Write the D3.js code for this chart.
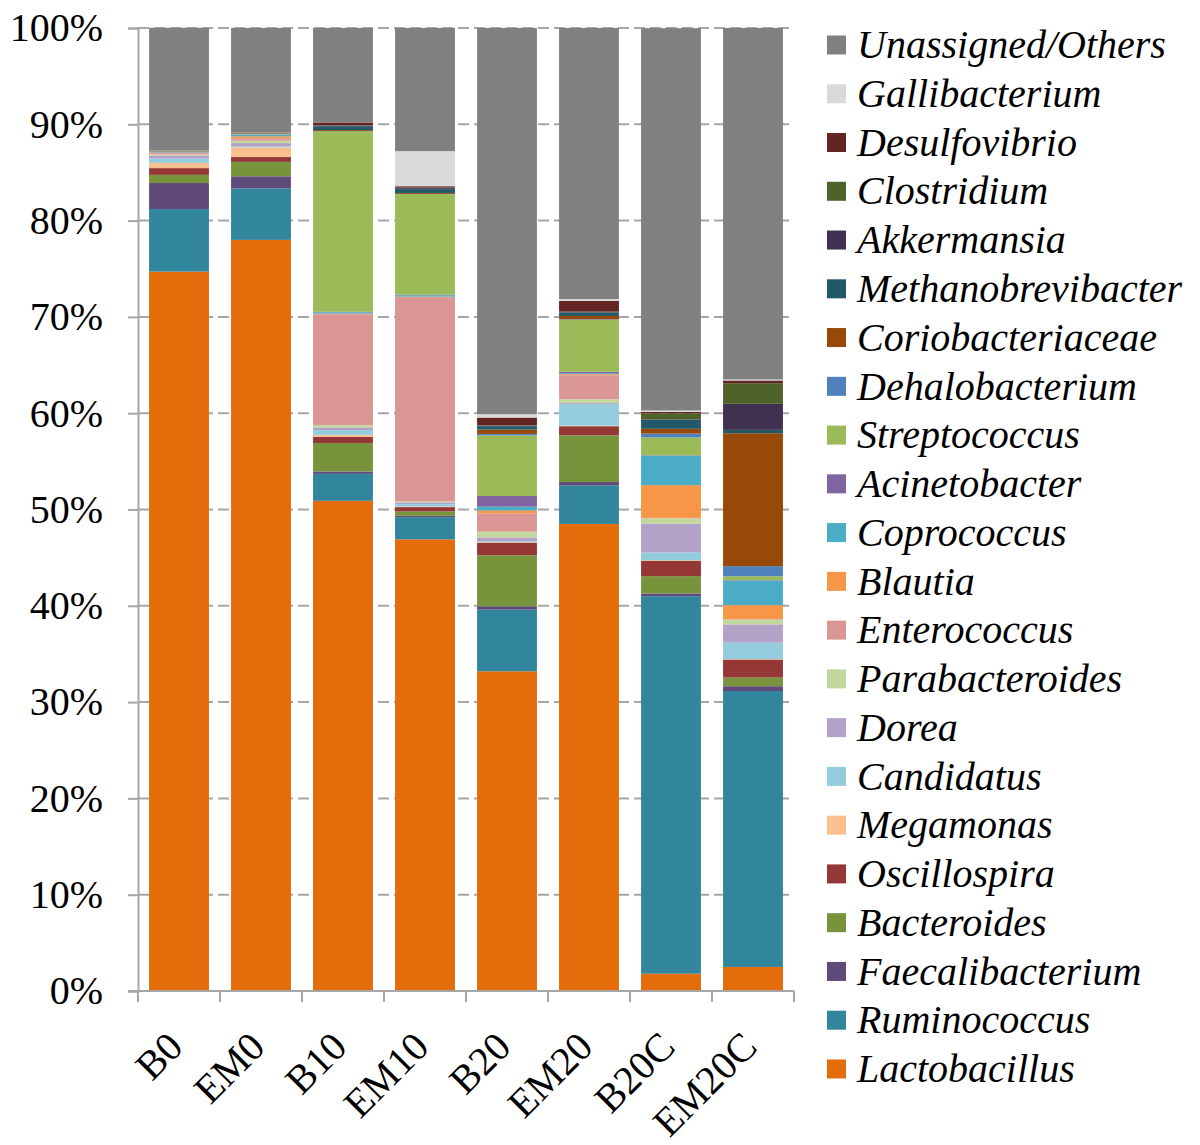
<!DOCTYPE html>
<html>
<head>
<meta charset="utf-8">
<script src="https://cdn.jsdelivr.net/npm/d3@7"></script>
<style>
  body { margin: 0; background: #fff; }
  text { font-family: "Times New Roman", "Liberation Serif", serif; fill: #000; }
</style>
</head>
<body>
<div id="chart"></div>
<script>
// samples on the x axis
const samples = ["B0", "EM0", "B10", "EM10", "B20", "EM20", "B20C", "EM20C"];

// genera, bottom of the stack first
const genera = ["Lactobacillus", "Ruminococcus", "Faecalibacterium", "Bacteroides", "Oscillospira",
  "Megamonas", "Candidatus", "Dorea", "Parabacteroides", "Enterococcus", "Blautia", "Coprococcus",
  "Acinetobacter", "Streptococcus", "Dehalobacterium", "Coriobacteriaceae", "Methanobrevibacter",
  "Akkermansia", "Clostridium", "Desulfovibrio", "Gallibacterium", "Unassigned/Others"];

// relative abundance (%) per sample, same order as samples
const lactobacillus      = [74.7, 78.0, 50.9, 46.9, 33.2, 48.5, 1.8, 2.5];
const ruminococcus       = [6.5, 5.35, 2.8, 2.3, 6.4, 4.0, 39.2, 28.65];
const faecalibacterium   = [2.7, 1.25, 0.25, 0.15, 0.35, 0.35, 0.28, 0.5];
const bacteroides        = [0.85, 1.5, 2.95, 0.45, 5.3, 4.85, 1.8, 0.9];
const oscillospira       = [0.7, 0.5, 0.65, 0.45, 1.3, 0.95, 1.6, 1.87];
const megamonas          = [0.55, 1.0, 0.2, 0.05, 0.05, 0.05, 0.05, 0.05];
const candidatus         = [0.45, 0.1, 0.5, 0.25, 0.1, 2.25, 0.8, 1.7];
const dorea              = [0.3, 0.35, 0.28, 0.2, 0.4, 0.1, 3.0, 1.9];
const parabacteroides    = [0.1, 0.25, 0.25, 0.1, 0.6, 0.4, 0.55, 0.5];
const enterococcus       = [0.15, 0.25, 11.5, 21.2, 1.9, 2.5, 0.05, 0.05];
const blautia            = [0.05, 0.2, 0.05, 0.05, 0.3, 0.1, 3.4, 1.45];
const coprococcus        = [0.05, 0.15, 0.15, 0.15, 0.4, 0.1, 3.05, 2.55];
const acinetobacter      = [0.03, 0.05, 0.05, 0.05, 1.1, 0.15, 0.05, 0.05];
const streptococcus      = [0.03, 0.05, 18.75, 10.45, 6.3, 5.4, 1.85, 0.4];
const dehalobacterium    = [0.02, 0.02, 0.02, 0.02, 0.15, 0.05, 0.4, 1.05];
const coriobacteriaceae  = [0.03, 0.05, 0.1, 0.1, 0.45, 0.35, 0.5, 13.8];
const methanobrevibacter = [0.03, 0.05, 0.4, 0.4, 0.35, 0.35, 0.95, 0.35];
const akkermansia        = [0.02, 0.02, 0.05, 0.1, 0.05, 0.05, 0.05, 2.7];
const clostridium        = [0.02, 0.02, 0.05, 0.05, 0.05, 0.05, 0.6, 2.15];
const desulfovibrio      = [0.02, 0.02, 0.3, 0.15, 0.8, 1.1, 0.15, 0.28];
const gallibacterium     = [0.02, 0.02, 0.02, 3.65, 0.35, 0.2, 0.15, 0.1];
const unassigned         = [12.7, 10.8, 9.78, 12.78, 40.1, 28.15, 39.7, 36.5];

const yTicks = ["0%", "10%", "20%", "30%", "40%", "50%", "60%", "70%", "80%", "90%", "100%"];

const colors = ["#E46C0A", "#31859C", "#604A7B", "#77933C", "#953735", "#FAC090", "#93CDDD",
  "#B3A2C7", "#C3D69B", "#D99694", "#F79646", "#4BACC6", "#8064A2", "#9BBB59", "#4F81BD",
  "#984807", "#215968", "#403151", "#4F6228", "#632523", "#D9D9D9", "#808080"];

const seriesValues = [lactobacillus, ruminococcus, faecalibacterium, bacteroides, oscillospira,
  megamonas, candidatus, dorea, parabacteroides, enterococcus, blautia, coprococcus, acinetobacter,
  streptococcus, dehalobacterium, coriobacteriaceae, methanobrevibacter, akkermansia, clostridium,
  desulfovibrio, gallibacterium, unassigned];

// one row per sample for d3.stack
const table = samples.map((s, i) => {
  const row = { sample: s };
  genera.forEach((g, j) => { row[g] = seriesValues[j][i]; });
  return row;
});

const width = 1200, height = 1145;
const plot = { left: 138, right: 794, top: 28, bottom: 991 };
const axisColor = "#a6a6a6";
const fontSize = 40;

const svg = d3.select("#chart")
  .append("svg")
  .attr("width", width)
  .attr("height", height);

const x = d3.scaleBand()
  .domain(samples)
  .range([plot.left, plot.right])
  .paddingInner(0.27)
  .paddingOuter(0.135);

const y = d3.scaleLinear()
  .domain([0, 100])
  .range([plot.bottom, plot.top]);

const color = d3.scaleOrdinal().domain(genera).range(colors);

// dashed gridlines
svg.append("g")
  .selectAll("line")
  .data(d3.range(10, 101, 10))
  .enter()
  .append("line")
  .attr("x1", plot.left)
  .attr("x2", plot.right)
  .attr("y1", d => y(d))
  .attr("y2", d => y(d))
  .attr("stroke", axisColor)
  .attr("stroke-width", 2)
  .attr("stroke-dasharray", "11,5");

const stacked = d3.stack().keys(genera)(table);

svg.append("g")
  .selectAll("g")
  .data(stacked)
  .enter()
  .append("g")
  .attr("fill", d => color(d.key))
  .selectAll("rect")
  .data(d => d)
  .enter()
  .append("rect")
  .attr("x", d => x(d.data.sample))
  .attr("width", x.bandwidth())
  .attr("y", d => y(d[1]))
  .attr("height", d => y(d[0]) - y(d[1]));

// y axis
const yAxis = svg.append("g")
  .attr("transform", `translate(${plot.left},0)`)
  .call(d3.axisLeft(y).tickValues(d3.range(0, 101, 10)).tickFormat((d, i) => yTicks[i]).tickSize(10).tickPadding(25));
yAxis.select(".domain").attr("stroke", axisColor).attr("stroke-width", 2);
yAxis.selectAll(".tick line").attr("stroke", axisColor).attr("stroke-width", 2);
yAxis.selectAll(".tick text")
  .attr("font-size", fontSize)
  .attr("fill", "#000");

// x axis: ticks sit between categories
const xAxis = svg.append("g")
  .attr("transform", `translate(0,${plot.bottom})`);
xAxis.append("line")
  .attr("x1", plot.left - 10)
  .attr("x2", plot.right)
  .attr("stroke", axisColor)
  .attr("stroke-width", 2);
const step = x.step();
xAxis.selectAll("line.tk")
  .data(d3.range(samples.length + 1))
  .enter()
  .append("line")
  .attr("class", "tk")
  .attr("x1", i => plot.left + i * step)
  .attr("x2", i => plot.left + i * step)
  .attr("y1", 0)
  .attr("y2", 11)
  .attr("stroke", axisColor)
  .attr("stroke-width", 2);
xAxis.selectAll("text")
  .data(samples)
  .enter()
  .append("text")
  .attr("transform", d => `translate(${x(d) + x.bandwidth() / 2 + 6},${58}) rotate(-45)`)
  .attr("text-anchor", "end")
  .attr("font-size", fontSize)
  .text(d => d);

// legend, top item is the top of the stack
const legendItems = genera.slice().reverse();
const legend = svg.append("g")
  .selectAll("g")
  .data(legendItems)
  .enter()
  .append("g")
  .attr("transform", (d, i) => `translate(827,${45 + i * 48.76})`);
legend.append("rect")
  .attr("x", 0)
  .attr("y", -9.5)
  .attr("width", 19)
  .attr("height", 19)
  .attr("fill", d => color(d));
legend.append("text")
  .attr("x", 30)
  .attr("dy", "0.33em")
  .attr("font-size", fontSize)
  .attr("font-style", "italic")
  .text(d => d);
</script>
</body>
</html>
